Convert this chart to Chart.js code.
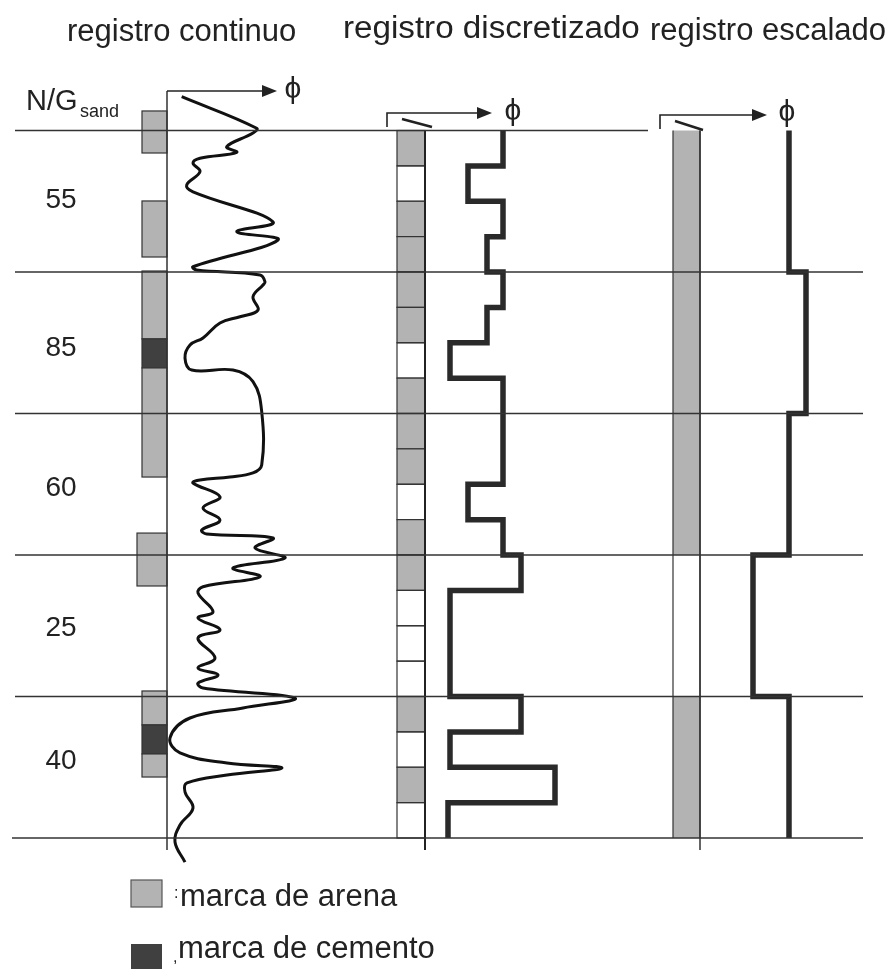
<!DOCTYPE html>
<html>
<head>
<meta charset="utf-8">
<script src="https://cdn.jsdelivr.net/npm/chart.js@4/dist/chart.umd.min.js"></script>
<style>
html, body { margin: 0; padding: 0; background: #fff; }
canvas { display: block; }
</style>
</head>
<body>
<canvas id="logChart" width="893" height="969"></canvas>
<script>
// depth is in zone units: 0 = top boundary, 5 = base of the interval
const zoneBounds = [0, 1, 2, 3, 4, 5];
const netToGross = ['55', '85', '60', '25', '40'];
const labelDepths = [0.49, 1.54, 2.53, 3.52, 4.46];

// continuous porosity log (phi measured from the track axis)
const contDepth = [-0.239, -0.016, 0.018, 0.114, 0.154, 0.196, 0.230, 0.291, 0.385, 0.433,
    0.645, 0.715, 0.774, 0.963, 0.986, 1.021, 1.069, 1.092, 1.175, 1.269,
    1.316, 1.360, 1.466, 1.516, 1.608, 1.693, 1.693, 1.775, 1.987, 2.364,
    2.420, 2.449, 2.470, 2.491, 2.588, 2.668, 2.753, 2.823, 2.852, 2.880,
    2.951, 3.021, 3.092, 3.153, 3.224, 3.269, 3.401, 3.445, 3.530, 3.587,
    3.728, 3.799, 3.848, 3.905, 3.940, 4.011, 4.081, 4.152, 4.293, 4.399,
    4.470, 4.505, 4.555, 4.611, 4.675, 4.788, 4.908, 5.028, 5.170];
const contPhi = [14.7, 89.7, 86, 59.7, 69.7, 33, 26, 33, 19.7, 26,
    106, 69.7, 111, 26, 29.7, 93, 98, 96, 86, 91,
    73, 53, 36, 23, 18, 24.7, 66, 86, 94.7, 94.7,
    86, 63, 33, 26, 53, 36, 53, 34.7, 39.7, 106,
    88, 118, 66, 93, 36, 31, 46, 31, 53, 31,
    48, 31, 51, 31, 36, 128, 76, 23, 3, 13,
    60, 115, 60, 20, 18, 26, 13, 8, 18];

// sand / cement marks beside the continuous log
const markTop = [-0.138, 0.498, 0.993, 1.473, 1.678, 2.845, 3.961, 4.201, 4.406];
const markBase = [0.159, 0.894, 1.473, 1.678, 2.449, 3.219, 4.201, 4.406, 4.569];
const markKind = ['sand', 'sand', 'sand', 'cement', 'sand', 'sand', 'sand', 'cement', 'sand'];
const markSize = [25, 25, 25, 25, 25, 30, 25, 25, 25];

// discretized log: 20 cells, 4 per zone
const cellSand = [1, 0, 1, 1, 1, 1, 0, 1, 1, 1, 0, 1, 1, 0, 0, 0, 1, 0, 1, 0];
const cellPhi = [78, 43, 78, 62, 78, 62, 25, 78, 78, 78, 43, 78, 96, 25, 25, 25, 96, 25, 130, 23];

// upscaled log: one value per zone
const zoneSand = [1, 1, 1, 0, 1];
const zonePhi = [89, 106, 89, 53, 89];

const GREY = '#b3b3b3';
const DARK = '#404040';
const INK = '#2a2a2a';
const FONT = '"Liberation Sans", Arial, sans-serif';

// track axes (horizontal positions)
const axisCont = 167, axisDisc = 425, axisScaled = 700;

const lineSets = zoneBounds.map((b, i) => ({
    data: [{x: i === 5 ? 12 : 15, y: b}, {x: i === 0 ? 648 : 863, y: b}],
    borderColor: '#333', borderWidth: 1.3, tension: 0
}));

const axisSets = [
    {data: [{x: axisCont, y: -0.279}, {x: axisCont, y: 5.085}], borderColor: '#333', borderWidth: 1.5},
    {data: [{x: axisDisc, y: 0}, {x: axisDisc, y: 5.085}], borderColor: '#222', borderWidth: 2},
    {data: [{x: axisScaled, y: 0}, {x: axisScaled, y: 5.085}], borderColor: '#333', borderWidth: 1.5}
];

const discPoints = [];
cellPhi.forEach((p, i) => {
    discPoints.push({x: axisDisc + p, y: i / 4});
    discPoints.push({x: axisDisc + p, y: (i + 1) / 4});
});
const scaledPoints = [];
zonePhi.forEach((p, i) => {
    scaledPoints.push({x: axisScaled + p, y: i});
    scaledPoints.push({x: axisScaled + p, y: i + 1});
});

const drawing = {
    id: 'drawing',
    beforeDatasetsDraw(chart) {
        const {ctx, scales: {x, y}} = chart;
        const px = v => x.getPixelForValue(v);
        const py = d => y.getPixelForValue(d);
        ctx.save();
        ctx.strokeStyle = '#333';
        ctx.lineWidth = 1.2;
        // marks beside continuous log
        markTop.forEach((t, i) => {
            const l = px(axisCont - markSize[i]), r = px(axisCont);
            const top = py(t), bot = py(markBase[i]);
            ctx.fillStyle = markKind[i] === 'cement' ? DARK : GREY;
            ctx.fillRect(l, top, r - l, bot - top);
            ctx.strokeRect(l, top, r - l, bot - top);
        });
        // discretized cells
        cellSand.forEach((s, i) => {
            const l = px(axisDisc - 28), r = px(axisDisc);
            const top = py(i / 4), bot = py((i + 1) / 4);
            if (s) {
                ctx.fillStyle = GREY;
                ctx.fillRect(l, top, r - l, bot - top);
            }
            ctx.strokeRect(l, top, r - l, bot - top);
        });
        // upscaled column
        zoneSand.forEach((s, i) => {
            const l = px(axisScaled - 27), r = px(axisScaled);
            const top = py(i), bot = py(i + 1);
            if (s) {
                ctx.fillStyle = GREY;
                ctx.fillRect(l, top, r - l, bot - top);
            }
            ctx.beginPath();
            ctx.moveTo(l, top); ctx.lineTo(l, bot);
            ctx.moveTo(r, top); ctx.lineTo(r, bot);
            ctx.stroke();
        });
        ctx.restore();
    },
    afterDraw(chart) {
        const {ctx, scales: {x, y}} = chart;
        const px = v => x.getPixelForValue(v);
        const py = d => y.getPixelForValue(d);
        ctx.save();
        ctx.fillStyle = '#222';
        ctx.strokeStyle = '#222';

        // titles
        ctx.textAlign = 'left';
        ctx.textBaseline = 'alphabetic';
        ctx.font = '31px ' + FONT;
        ctx.fillText('registro continuo', 67, 41);
        ctx.fillText('registro escalado', 650, 40, 240);
        // the middle title is a little wider in the original
        ctx.save();
        ctx.translate(343, 38);
        ctx.scale(1.07, 1);
        ctx.fillText('registro discretizado', 0, 0);
        ctx.restore();

        // N/G header
        ctx.font = '29px ' + FONT;
        ctx.fillText('N/G', 26, 110);
        ctx.font = '18px ' + FONT;
        ctx.fillText('sand', 80, 117);

        // net to gross labels
        ctx.font = '28px ' + FONT;
        ctx.textAlign = 'center';
        ctx.textBaseline = 'middle';
        netToGross.forEach((t, i) => ctx.fillText(t, 61, py(labelDepths[i])));

        // phi arrows
        const arrow = (x0, y0, y1, tip) => {
            ctx.lineWidth = 1.6;
            ctx.beginPath();
            ctx.moveTo(px(x0), y0);
            ctx.lineTo(px(x0), y1);
            ctx.lineTo(px(tip) - 12, y1);
            ctx.stroke();
            ctx.beginPath();
            ctx.moveTo(px(tip) - 15, y1 - 6);
            ctx.lineTo(px(tip), y1);
            ctx.lineTo(px(tip) - 15, y1 + 6);
            ctx.closePath();
            ctx.fill();
        };
        arrow(axisCont, 91, 91, 277);
        arrow(387, 127, 113, 492);
        arrow(660, 129, 115, 767);

        ctx.font = '30px ' + FONT;
        ctx.textAlign = 'center';
        ctx.textBaseline = 'middle';
        ctx.fillText('\u03D5', 293, 90);
        ctx.fillText('\u03D5', 513, 112);
        ctx.fillText('\u03D5', 787, 113);

        // little slash marks on the discretized / upscaled tops
        ctx.lineWidth = 2.5;
        ctx.beginPath();
        ctx.moveTo(402, 119); ctx.lineTo(432, 127);
        ctx.moveTo(675, 121); ctx.lineTo(703, 130);
        ctx.stroke();

        // legend
        ctx.lineWidth = 1.2;
        ctx.strokeStyle = '#555';
        ctx.fillStyle = GREY;
        ctx.fillRect(131, 880, 31, 27);
        ctx.strokeRect(131, 880, 31, 27);
        ctx.fillStyle = DARK;
        ctx.fillRect(131, 944, 31, 30);
        ctx.fillStyle = '#222';
        ctx.textAlign = 'left';
        ctx.textBaseline = 'alphabetic';
        ctx.font = '16px ' + FONT;
        ctx.fillText(':', 174, 898);
        ctx.fillText(',', 173, 962);
        ctx.font = '31px ' + FONT;
        ctx.fillText('marca de arena', 180, 906);
        ctx.fillText('marca de cemento', 178, 958);
        ctx.restore();
    }
};

new Chart(document.getElementById('logChart').getContext('2d'), {
    type: 'scatter',
    data: {
        datasets: [
            ...lineSets,
            ...axisSets,
            {
                data: contPhi.map((p, i) => ({x: axisCont + p, y: contDepth[i]})),
                borderColor: '#111', borderWidth: 3, tension: 0.4
            },
            {data: discPoints, borderColor: INK, borderWidth: 5.5, tension: 0},
            {data: scaledPoints, borderColor: INK, borderWidth: 5.5, tension: 0}
        ].map(d => Object.assign({showLine: true, pointRadius: 0, fill: false, borderJoinStyle: 'miter'}, d))
    },
    options: {
        responsive: false,
        devicePixelRatio: 1,
        animation: false,
        layout: {padding: 0},
        plugins: {legend: {display: false}, tooltip: {enabled: false}},
        scales: {
            x: {type: 'linear', min: 0, max: 893, display: false},
            y: {type: 'linear', min: -130.5 / 141.5, max: (969 - 130.5) / 141.5, reverse: true, display: false}
        }
    },
    plugins: [drawing]
});
</script>
</body>
</html>
